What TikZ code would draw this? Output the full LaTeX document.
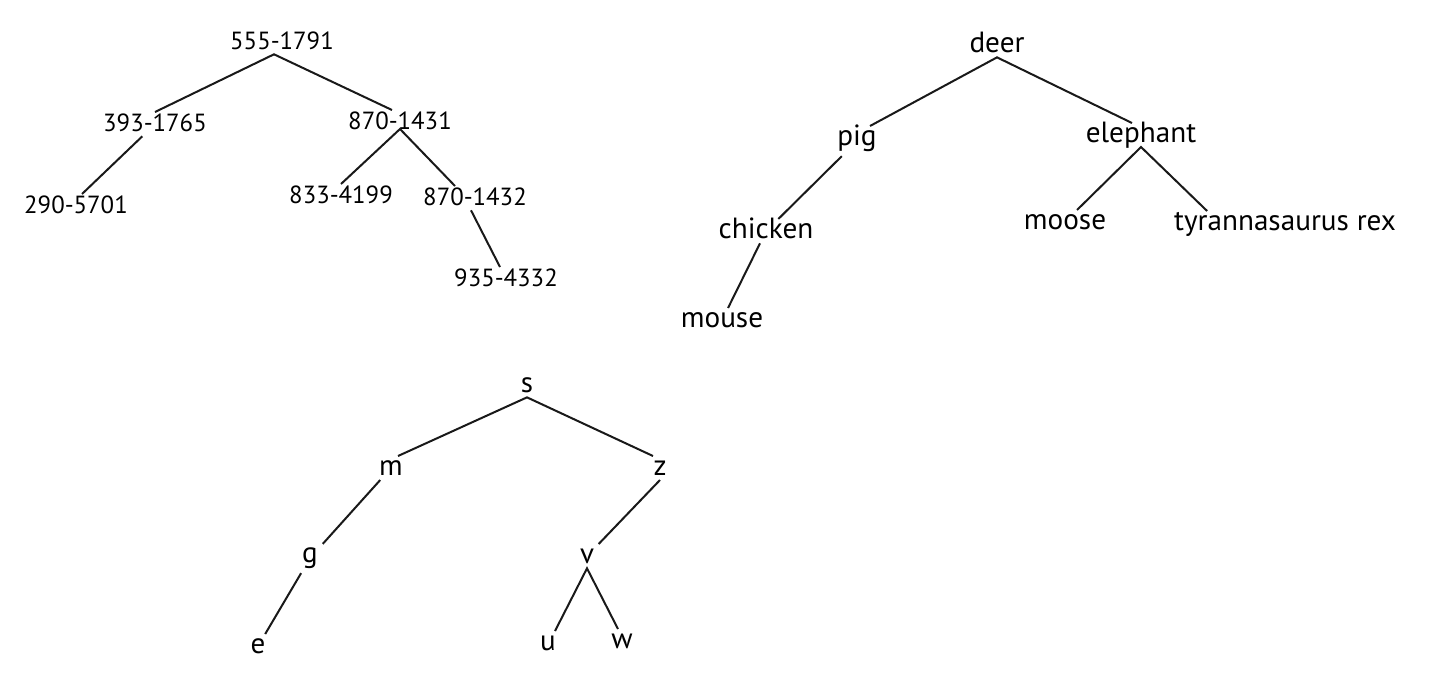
\documentclass[tikz,border=0pt]{standalone}
\usepackage{fontspec}
\setmainfont{PT Sans}
\usepackage{tikz}

\begin{document}
\begin{tikzpicture}[x=0.5pt, y=-0.5pt]

\useasboundingbox (0,0) rectangle (1434,692);

% Set the overall look of the labels and the branches
\tikzstyle{lbl}=[inner sep=0pt, outer sep=2.5pt, anchor=base, text height=0.7em, text=black]
\tikzstyle{num}=[lbl, font=\fontsize{12.4}{15}\selectfont]
\tikzstyle{animal}=[lbl, font=\fontsize{14.6}{18}\selectfont]
\tikzstyle{letter}=[lbl, font=\fontsize{14.5}{17}\selectfont]
\tikzstyle{branch}=[line width=1pt, black!90]

% Phone numbers
\node[num] (n5551791) at (282,49) {555-1791};
\node[num] (n3931765) at (155,131) {393-1765};
\node[num] (n8701431) at (400,129) {870-1431};
\node[num] (n2905701) at (76,213) {290-5701};
\node[num] (n8334199) at (341,203) {833-4199};
\node[num] (n8701432) at (475,205) {870-1432};
\node[num] (n9354332) at (506,286) {935-4332};

\draw[branch] (n3931765.north) -- ([xshift=-4pt]n5551791.south) -- ([xshift=-4pt]n8701431.north);
\draw[branch] (n3931765) -- ([xshift=3pt]n2905701.north);
\draw[branch] (n8334199.north) -- (n8701431.base) -- ([xshift=-10pt]n8701432.north);
\draw[branch] ([xshift=-2pt]n8701432.south) -- ([xshift=-3pt]n9354332.north);

% Animals
\node[animal] (deer) at (997,52) {deer};
\node[animal] (pig) at (857,145) {pig};
\node[animal] (elephant) at (1141,142) {elephant};
\node[animal] (chicken) at (766,238) {chicken};
\node[animal] (mouse) at (722,327) {mouse};
\node[animal] (moose) at (1065,229) {moose};
\node[animal] (trex) at (1285,230) {tyrannasaurus rex};

\draw[branch] ([xshift=6.5pt]pig.north) -- (deer.south) -- ([xshift=-4.5pt]elephant.north);
\draw[branch] (pig) -- (chicken);
\draw[branch] (chicken) -- (mouse);
\draw[branch] ([xshift=6pt]moose.north) -- ([yshift=-2.5pt]elephant.base) -- ([xshift=19pt]trex.north west);

% Letters
\node[letter] (s) at (527,392) {s};
\node[letter] (m) at (391,475) {m};
\node[letter] (z) at (660,475) {z};
\node[letter] (g) at (310,562) {g};
\node[letter] (v) at (587,563) {v};
\node[letter] (e) at (258,653) {e};
\node[letter] (u) at (548,650) {u};
\node[letter] (w) at (622,648) {w};

\draw[branch] ([xshift=3.5pt]m.north) -- (s.south) -- ([xshift=-3.5pt]z.north);
\draw[branch] (m) -- (g);
\draw[branch] (g) -- (e);
\draw[branch] (z.south) -- (v);
\draw[branch] ([xshift=3.5pt]u.north) -- (v.south) -- ([xshift=-2pt]w.north);

\end{tikzpicture}
\end{document}
